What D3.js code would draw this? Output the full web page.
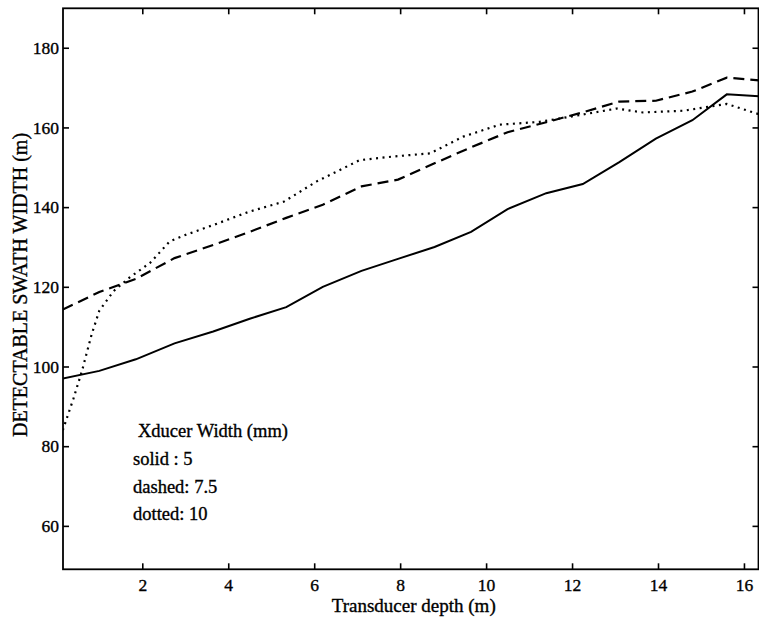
<!DOCTYPE html>
<html>
<head>
<meta charset="utf-8">
<script src="https://cdn.jsdelivr.net/npm/d3@7"></script>
<style>
  html, body { margin: 0; padding: 0; background: #fff; }
  svg { display: block; }
  svg text { font-family: "Liberation Serif", "Tinos", "Times New Roman", Times, "DejaVu Serif", serif !important; fill: #000; stroke: #000; stroke-width: 0.35px; }
</style>
</head>
<body>
<script>
// ---- data ----
const depth = [0.15, 1.0, 1.85, 2.75, 3.65, 4.5, 5.35, 6.2, 7.1, 7.95, 8.8, 9.65, 10.5, 11.4, 12.25, 13.1, 13.95, 14.8, 15.6, 16.35];
const solidWidth = [97, 98.9, 101.8, 105.8, 108.8, 112, 114.9, 120, 124, 127, 130, 133.8, 139.5, 143.5, 145.8, 151.3, 157.2, 161.8, 168.3, 167.8];
const dashedWidth = [114.3, 118.7, 122, 127.2, 130.5, 133.8, 137.3, 140.6, 145.2, 146.9, 151, 155, 158.8, 161.3, 163.8, 166.5, 166.7, 169, 172.5, 171.8];
const dottedDepth = [0.15, 0.4, 0.6, 0.82, 1.0, 1.33, 1.7, 2.18, 2.64, 3.0, 3.65, 4.5, 5.3, 6.05, 7.06, 7.84, 8.7, 9.47, 10.32, 11.25, 12.18, 13.04, 13.65, 14.6, 15.6, 16.35];
const dottedWidth = [84, 92, 99, 108, 114, 118.9, 122.3, 126, 131.4, 133, 135.5, 138.9, 141.4, 146.4, 151.8, 152.7, 153.5, 157.7, 160.7, 161.4, 163.1, 164.75, 163.75, 164.2, 165.9, 163.3];
const xTicks = [2, 4, 6, 8, 10, 12, 14, 16];
const yTicks = [60, 80, 100, 120, 140, 160, 180];
const legendTitle = "Xducer Width (mm)";
const legendLines = ["solid : 5", "dashed: 7.5", "dotted: 10"];
const xLabel = "Transducer depth (m)";
const yLabel = "DETECTABLE SWATH WIDTH (m)";

// ---- layout ----
const W = 759, H = 622;
const L = 63, R = 758.5, T = 8.3, B = 569.3;
const FONT = '"Liberation Serif", "Tinos", "Times New Roman", Times, "DejaVu Serif", serif';

const svg = d3.select("body").append("svg").attr("width", W).attr("height", H)
  .attr("font-family", FONT);

const x = d3.scaleLinear().domain([0.155, 16.35]).range([L, 759]);
const y = d3.scaleLinear().domain([49.1, 189.9]).range([B, T]);

svg.append("defs").append("clipPath").attr("id", "clip")
  .append("rect").attr("x", L).attr("y", T).attr("width", R - L).attr("height", B - T);

// axes with inward ticks
const tick = 6;
const gx = svg.append("g").attr("transform", `translate(0,${B})`)
  .call(d3.axisBottom(x).tickValues(xTicks).tickSize(-tick).tickPadding(9).tickFormat(d3.format("d")));
const gxt = svg.append("g").attr("transform", `translate(0,${T})`)
  .call(d3.axisTop(x).tickValues(xTicks).tickSize(-tick).tickFormat(""));
const gy = svg.append("g").attr("transform", `translate(${L},0)`)
  .call(d3.axisLeft(y).tickValues(yTicks).tickSize(-tick).tickPadding(4).tickFormat(d3.format("d")));
const gyr = svg.append("g").attr("transform", `translate(${R},0)`)
  .call(d3.axisRight(y).tickValues(yTicks).tickSize(-tick).tickFormat(""));

[gx, gxt, gy, gyr].forEach(g => {
  g.attr("font-family", FONT).attr("font-size", 17.5);
  g.select(".domain").remove();
  g.selectAll(".tick line").attr("stroke", "#000").attr("stroke-width", 1.6);
  g.selectAll(".tick text").attr("fill", "#000");
});

// frame
svg.append("rect").attr("x", L).attr("y", T).attr("width", R - L).attr("height", B - T)
  .attr("fill", "none").attr("stroke", "#000").attr("stroke-width", 1.8);

// lines
const line = d3.line().x(d => x(d[0])).y(d => y(d[1]));
const plot = svg.append("g").attr("clip-path", "url(#clip)");

plot.append("path").datum(depth.map((d, i) => [d, solidWidth[i]]))
  .attr("d", line).attr("fill", "none").attr("stroke", "#000").attr("stroke-width", 2);
plot.append("path").datum(depth.map((d, i) => [d, dashedWidth[i]]))
  .attr("d", line).attr("fill", "none").attr("stroke", "#000").attr("stroke-width", 2.2)
  .attr("stroke-dasharray", "11,6");
plot.append("path").datum(dottedDepth.map((d, i) => [d, dottedWidth[i]]))
  .attr("d", line).attr("fill", "none").attr("stroke", "#000").attr("stroke-width", 2.2)
  .attr("stroke-dasharray", "2,4.5");

// legend text
svg.append("text").attr("x", 138).attr("y", 437).attr("font-size", 18.5).text(legendTitle);
legendLines.forEach((t, i) => {
  svg.append("text").attr("x", 133).attr("y", 465 + i * 27.7).attr("font-size", 18.5).text(t);
});

// axis labels
svg.append("text").attr("x", (L + R) / 2 + 3).attr("y", 612).attr("text-anchor", "middle")
  .attr("font-size", 19).text(xLabel);
svg.append("text").attr("transform", "translate(27,285) rotate(-90)").attr("text-anchor", "middle")
  .attr("font-size", 20).text(yLabel);
</script>
</body>
</html>
